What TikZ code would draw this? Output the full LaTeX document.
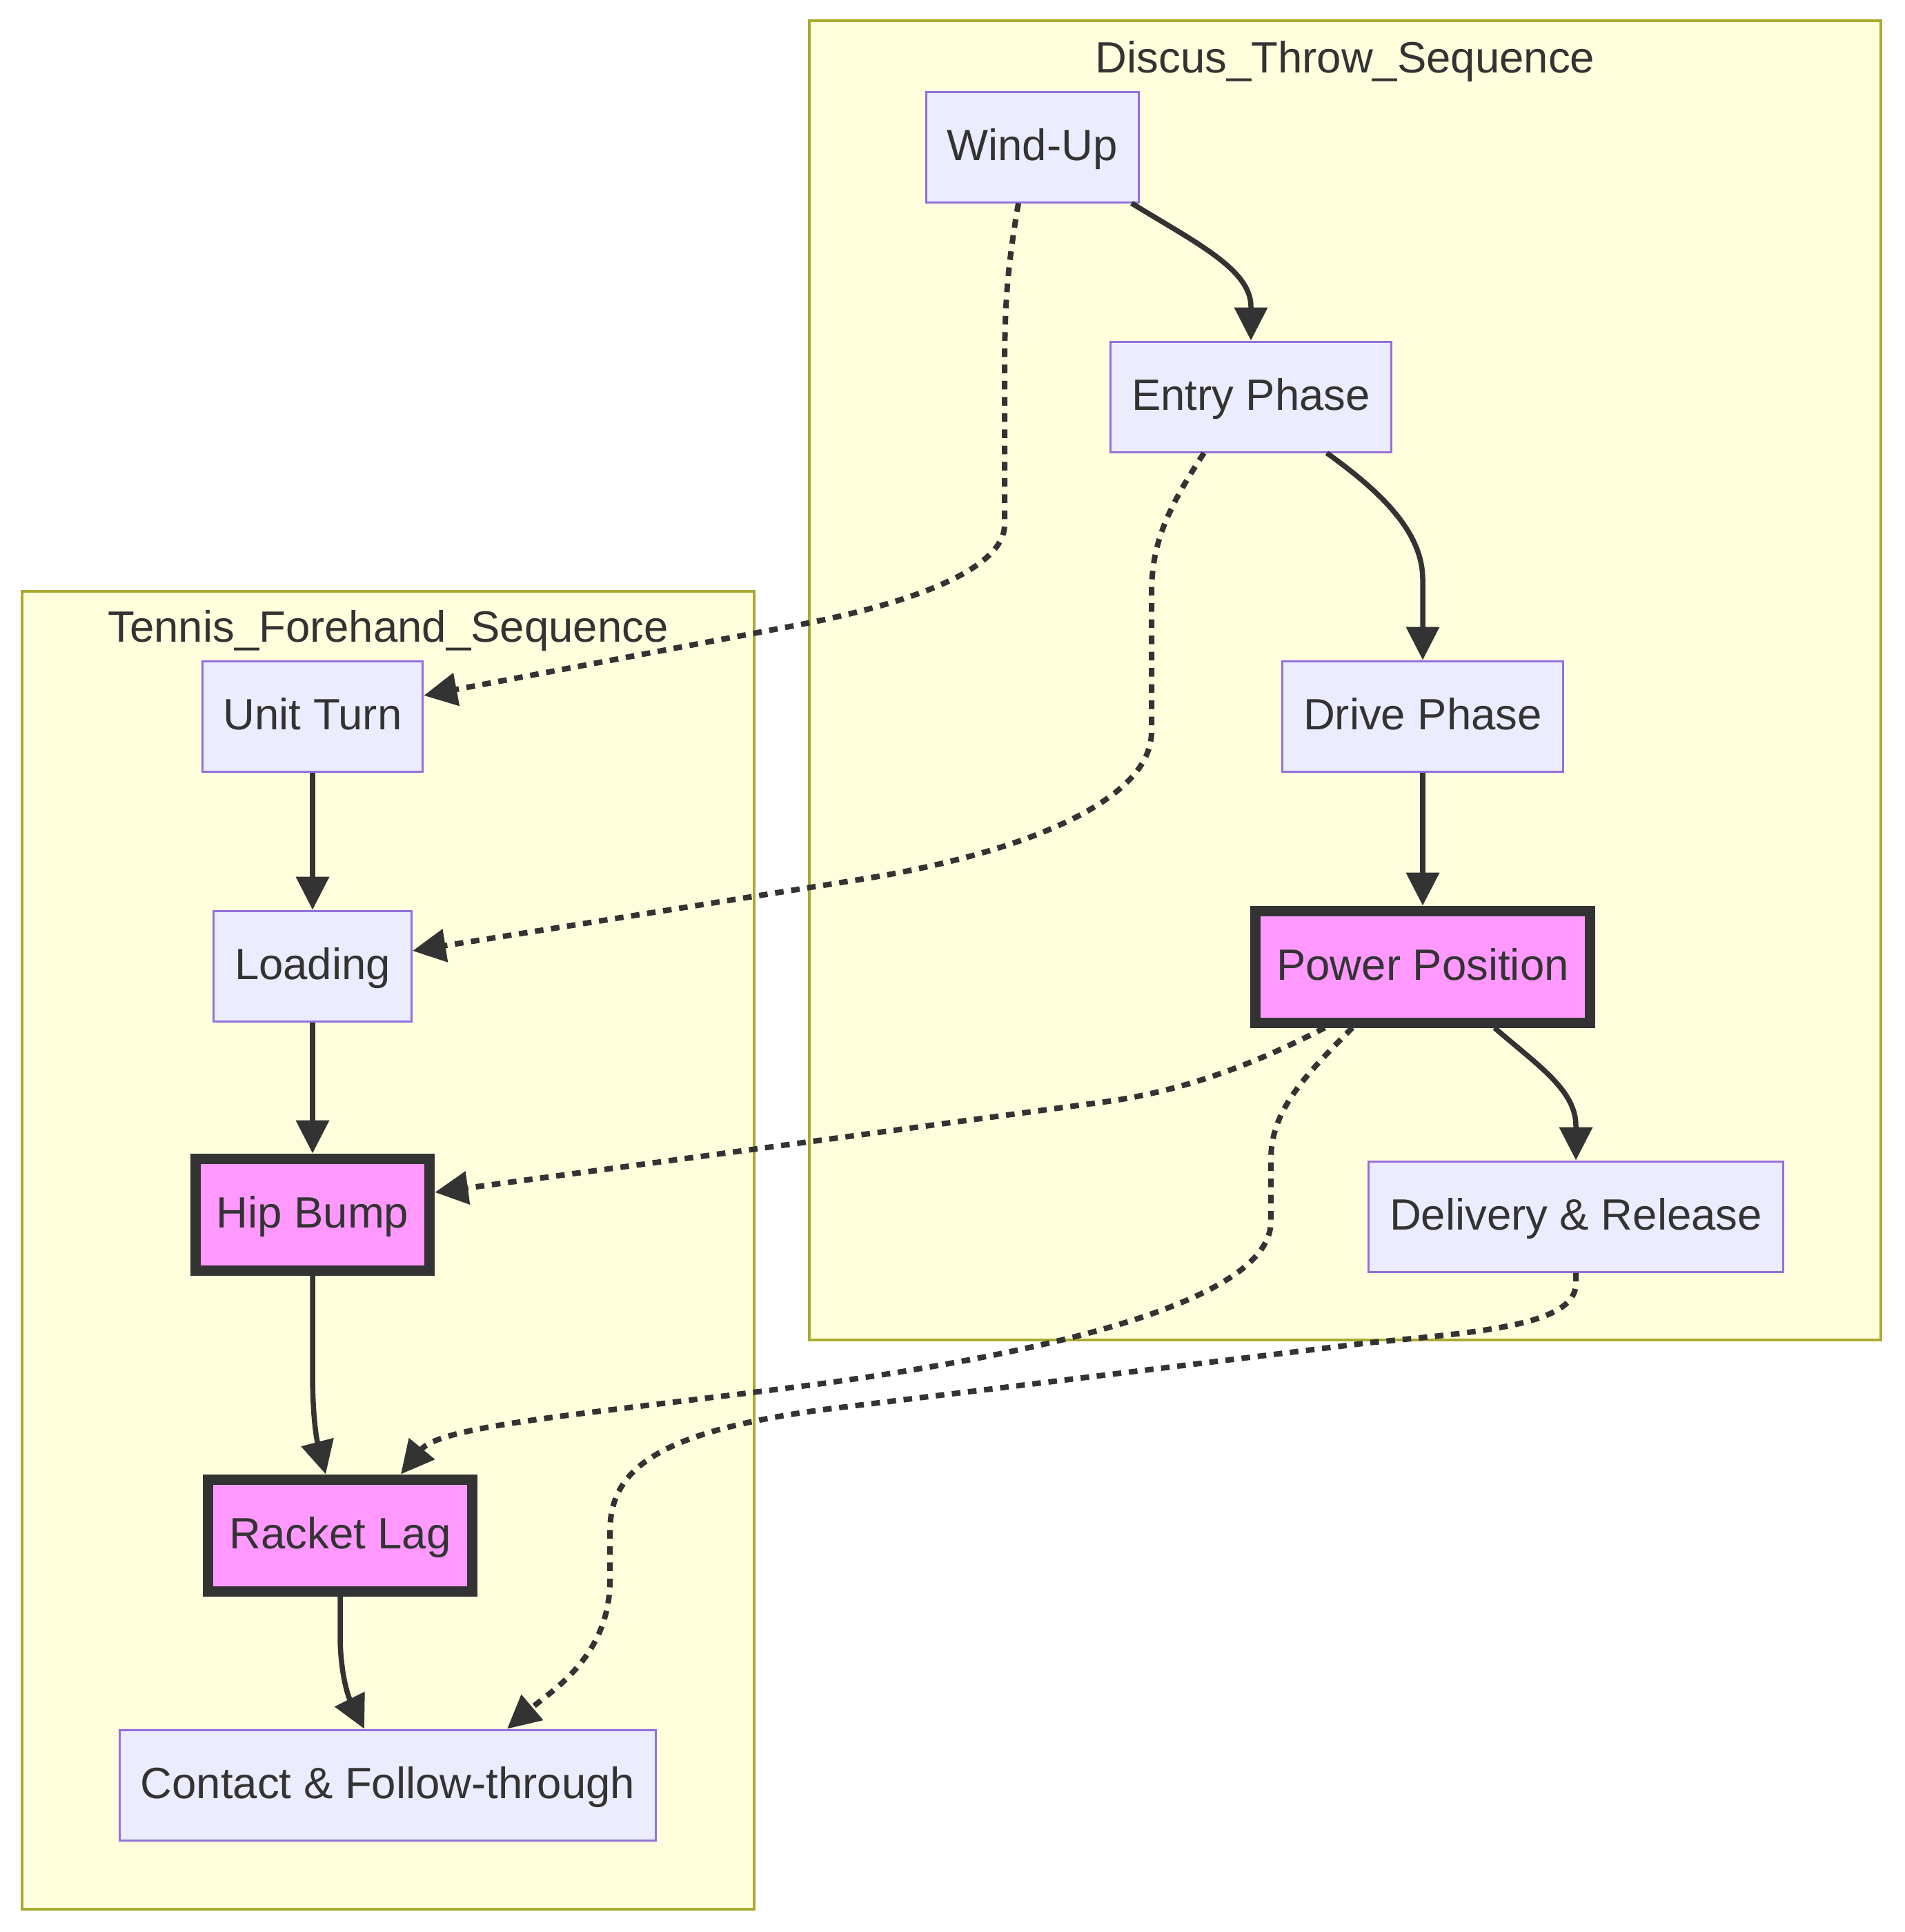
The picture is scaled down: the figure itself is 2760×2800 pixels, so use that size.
\documentclass[tikz,border=0pt]{standalone}
\usepackage{fontspec}
\setmainfont{Liberation Sans}
\usetikzlibrary{arrows.meta}
\definecolor{clfill}{HTML}{FFFFDE}
\definecolor{cldraw}{HTML}{AAAA33}
\definecolor{ndfill}{HTML}{ECECFF}
\definecolor{nddraw}{HTML}{9370DB}
\definecolor{hifill}{HTML}{FF99FF}
\definecolor{dark}{HTML}{333333}
\tikzset{
  base/.style={rectangle, font=\fontsize{63.5}{76}\selectfont, text=dark,
    inner xsep=30.5pt, inner ysep=0pt, minimum height=160pt,
    text height=46pt, text depth=7pt},
  plain/.style={base, fill=ndfill, draw=nddraw, line width=3pt},
  hot/.style={base, fill=hifill, draw=dark, line width=15pt, minimum height=162pt},
  flow/.style={draw=dark, line width=7.5pt, -{Triangle[length=48pt,width=47pt]}},
  dotflow/.style={flow, line width=8pt, dash pattern=on 12.5pt off 11pt},
  cluster/.style={fill=clfill, draw=cldraw, line width=3.5pt},
  cltitle/.style={font=\fontsize{63.5}{76}\selectfont, text=dark, anchor=base, inner sep=0pt}
}
\begin{document}
\begin{tikzpicture}[x=1pt,y=-1pt]
\useasboundingbox (0,0) rectangle (2760,2800);
% clusters
\draw[cluster] (1173,30) rectangle (2726,1942);
\draw[cluster] (32,857) rectangle (1093,2767);
\node[cltitle] (tdisc) at (1949.5,105) {Discus\_Throw\_Sequence};
\node[cltitle] (tten) at (562.5,930) {Tennis\_Forehand\_Sequence};
% nodes
\node[plain] (WU) at (1496,213) {Wind-Up};
\node[plain] (EP) at (1813,575) {Entry Phase};
\node[plain] (DP) at (2062,1038) {Drive Phase};
\node[hot]   (PP) at (2062,1401) {Power Position};
\node[plain] (DR) at (2284,1763) {Delivery \& Release};
\node[plain] (UT) at (453,1038) {Unit Turn};
\node[plain] (LO) at (453,1400) {Loading};
\node[hot]   (HB) at (453,1760) {Hip Bump};
\node[hot]   (RL) at (493,2225) {Racket Lag};
\node[plain] (CF) at (562,2587) {Contact \& Follow-through};
% solid edges
\draw[flow] ([xshift=144pt]WU.south) .. controls (1730,350) and (1813,390) .. (1813,444) -- (EP.north);
\draw[flow] ([xshift=110pt]EP.south) .. controls (2000,712) and (2062,770) .. (2062,840) -- (DP.north);
\draw[flow] (DP.south) -- (PP.north);
\draw[flow] ([xshift=104pt]PP.south) .. controls (2230,1545) and (2284,1580) .. (2284,1632) -- (DR.north);
\draw[flow] (UT.south) -- (LO.north);
\draw[flow] (LO.south) -- (HB.north);
\draw[flow] (HB.south) -- (453,1990) .. controls (453,2060) and (460,2090) .. ([xshift=-21pt]RL.north);
\draw[flow] (RL.south) -- (493,2370) .. controls (493,2420) and (503,2455) .. ([xshift=-34pt]CF.north);
% dotted edges
\draw[dotflow] ([xshift=-20pt]WU.south) .. controls (1458,400) and (1456,450) .. (1456,550) -- (1456,760)
  .. controls (1456,830) and (1300,879) .. (1150,907) -- ([yshift=30pt]UT.east);
\draw[dotflow] ([xshift=-68pt]EP.south) .. controls (1690,740) and (1669,790) .. (1669,860) -- (1669,1060)
  .. controls (1669,1170) and (1450,1242) .. (1250,1274) -- ([yshift=22pt]LO.east);
\draw[dotflow] ([xshift=-142pt]PP.south) .. controls (1870,1515) and (1750,1577) .. (1600,1597) -- ([yshift=32pt]HB.east);
\draw[dotflow] ([xshift=-102pt]PP.south) .. controls (1890,1560) and (1842,1610) .. (1842,1680) -- (1842,1770)
  .. controls (1842,1880) and (1550,1955) .. (1200,2004)
  .. controls (850,2050) and (640,2065) .. ([xshift=88pt]RL.north);
\draw[dotflow] (DR.south) -- (2284,1860) .. controls (2284,1920) and (2150,1930) .. (1984,1946) -- (1200,2042)
  .. controls (950,2075) and (884,2130) .. (884,2220) -- (884,2290)
  .. controls (884,2400) and (800,2450) .. ([xshift=173pt]CF.north);
\end{tikzpicture}
\end{document}
